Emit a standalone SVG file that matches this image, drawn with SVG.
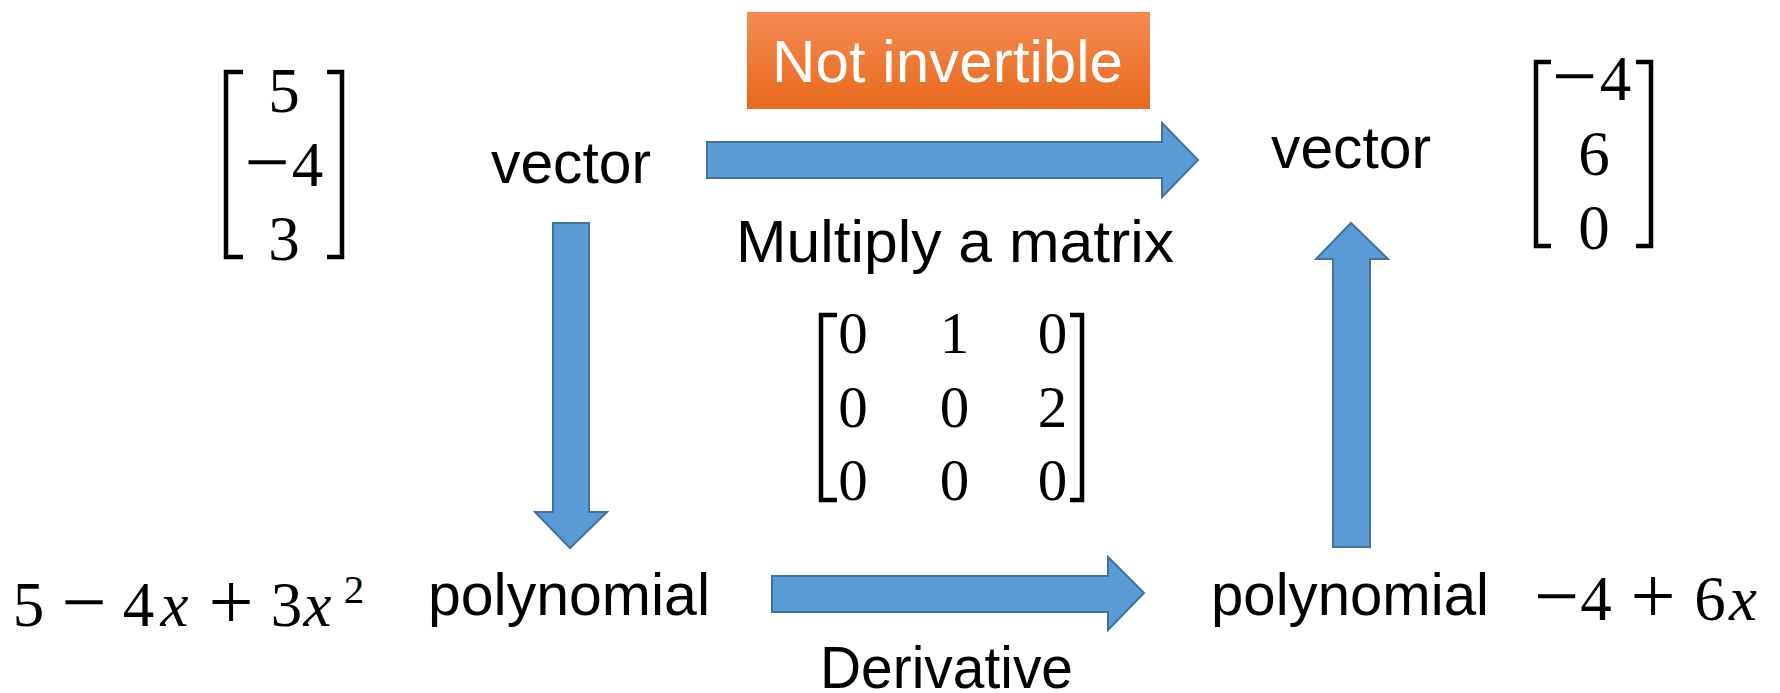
<svg xmlns="http://www.w3.org/2000/svg" width="1780" height="693" viewBox="0 0 1780 693">
  <defs>
    <linearGradient id="orangeGrad" x1="0" y1="0" x2="0" y2="1">
      <stop offset="0" stop-color="#F58B52"/>
      <stop offset="1" stop-color="#E8691B"/>
    </linearGradient>
    <style>
      .lbl { font-family: "Liberation Sans", Arial, sans-serif; font-size: 60px; fill: #000; }
      .title { font-family: "Liberation Sans", Arial, sans-serif; font-size: 60px; fill: #fff; }
      .math { font-family: "Liberation Serif", "Times New Roman", serif; font-size: 63px; fill: #000; text-anchor: middle; }
      .mmath { font-family: "Liberation Serif", "Times New Roman", serif; font-size: 59px; fill: #000; text-anchor: middle; }
      .it { font-style: italic; }
      .op { font-size: 80px; }
      .brk { fill: none; stroke: #000; stroke-width: 4.5; stroke-linejoin: miter; }
      .arrow { fill: #5B9BD5; stroke: #41719C; stroke-width: 2; }
    </style>
  </defs>
  <rect width="1780" height="693" fill="#fff"/>

  <g id="not-invertible">
    <rect x="747" y="12" width="403" height="97" fill="url(#orangeGrad)"/>
    <text class="title" x="772" y="82" textLength="351" lengthAdjust="spacingAndGlyphs">Not invertible</text>
  </g>

  <g id="vector-left-value">
    <path class="brk" d="M243,72 H226 V257 H243"/>
    <path class="brk" d="M327,72 H342 V257 H327"/>
    <text class="math" x="284" y="112">5</text>
    <text class="math"><tspan class="op" x="267" y="189">−</tspan><tspan x="307.5" y="186">4</tspan></text>
    <text class="math" x="284" y="260">3</text>
  </g>

  <g id="vector-left">
    <text class="lbl" x="491" y="183" textLength="160" lengthAdjust="spacingAndGlyphs">vector</text>
  </g>

  <g id="vector-right">
    <text class="lbl" x="1271" y="168" textLength="160" lengthAdjust="spacingAndGlyphs">vector</text>
  </g>

  <g id="vector-right-value">
    <path class="brk" d="M1551,62 H1536 V246 H1551"/>
    <path class="brk" d="M1636,62 H1651 V246 H1636"/>
    <text class="math"><tspan class="op" x="1574.5" y="103">−</tspan><tspan x="1615.5" y="100">4</tspan></text>
    <text class="math" x="1594" y="175">6</text>
    <text class="math" x="1594" y="249">0</text>
  </g>

  <g id="multiply-label">
    <text class="lbl" x="736" y="262" textLength="438" lengthAdjust="spacingAndGlyphs">Multiply a matrix</text>
  </g>

  <g id="matrix">
    <path class="brk" d="M837,315 H821 V500 H837"/>
    <path class="brk" d="M1070,315 H1082 V500 H1070"/>
    <text class="mmath" x="853" y="353">0</text>
    <text class="mmath" x="954.5" y="353">1</text>
    <text class="mmath" x="1052.5" y="353">0</text>
    <text class="mmath" x="853" y="427">0</text>
    <text class="mmath" x="954.5" y="427">0</text>
    <text class="mmath" x="1052.5" y="427">2</text>
    <text class="mmath" x="853" y="500">0</text>
    <text class="mmath" x="954.5" y="500">0</text>
    <text class="mmath" x="1052.5" y="500">0</text>
  </g>

  <g id="polynomial-left-value">
    <text class="math"><tspan x="28.5" y="626">5</tspan><tspan class="op" x="84" y="629">−</tspan><tspan x="138.5" y="626">4</tspan><tspan class="it" x="174.5" y="626">x</tspan><tspan class="op" x="231" y="629">+</tspan><tspan x="286.5" y="626">3</tspan><tspan class="it" x="317.5" y="626">x</tspan><tspan x="354" y="603" font-size="41">2</tspan></text>
  </g>

  <g id="polynomial-left">
    <text class="lbl" x="428" y="615" textLength="282" lengthAdjust="spacingAndGlyphs">polynomial</text>
  </g>

  <g id="polynomial-right">
    <text class="lbl" x="1211" y="615" textLength="278" lengthAdjust="spacingAndGlyphs">polynomial</text>
  </g>

  <g id="polynomial-right-value">
    <text class="math"><tspan class="op" x="1556.5" y="623">−</tspan><tspan x="1596" y="620">4</tspan><tspan class="op" x="1653" y="623">+</tspan><tspan x="1710" y="620">6</tspan><tspan class="it" x="1743" y="620">x</tspan></text>
  </g>

  <g id="derivative-label">
    <text class="lbl" x="820" y="688" textLength="253" lengthAdjust="spacingAndGlyphs">Derivative</text>
  </g>

  <g id="connectors">
    <polygon class="arrow" points="707,142 1162,142 1162,123 1198,160 1162,197 1162,178 707,178"/>
    <polygon class="arrow" points="553,223 589,223 589,512 607,512 570,548 535,512 553,512"/>
    <polygon class="arrow" points="1333,547 1333,259 1316,259 1351,223 1388,259 1370,259 1370,547"/>
    <polygon class="arrow" points="772,576 1108,576 1108,557 1144,593 1108,630 1108,612 772,612"/>
  </g>
</svg>
